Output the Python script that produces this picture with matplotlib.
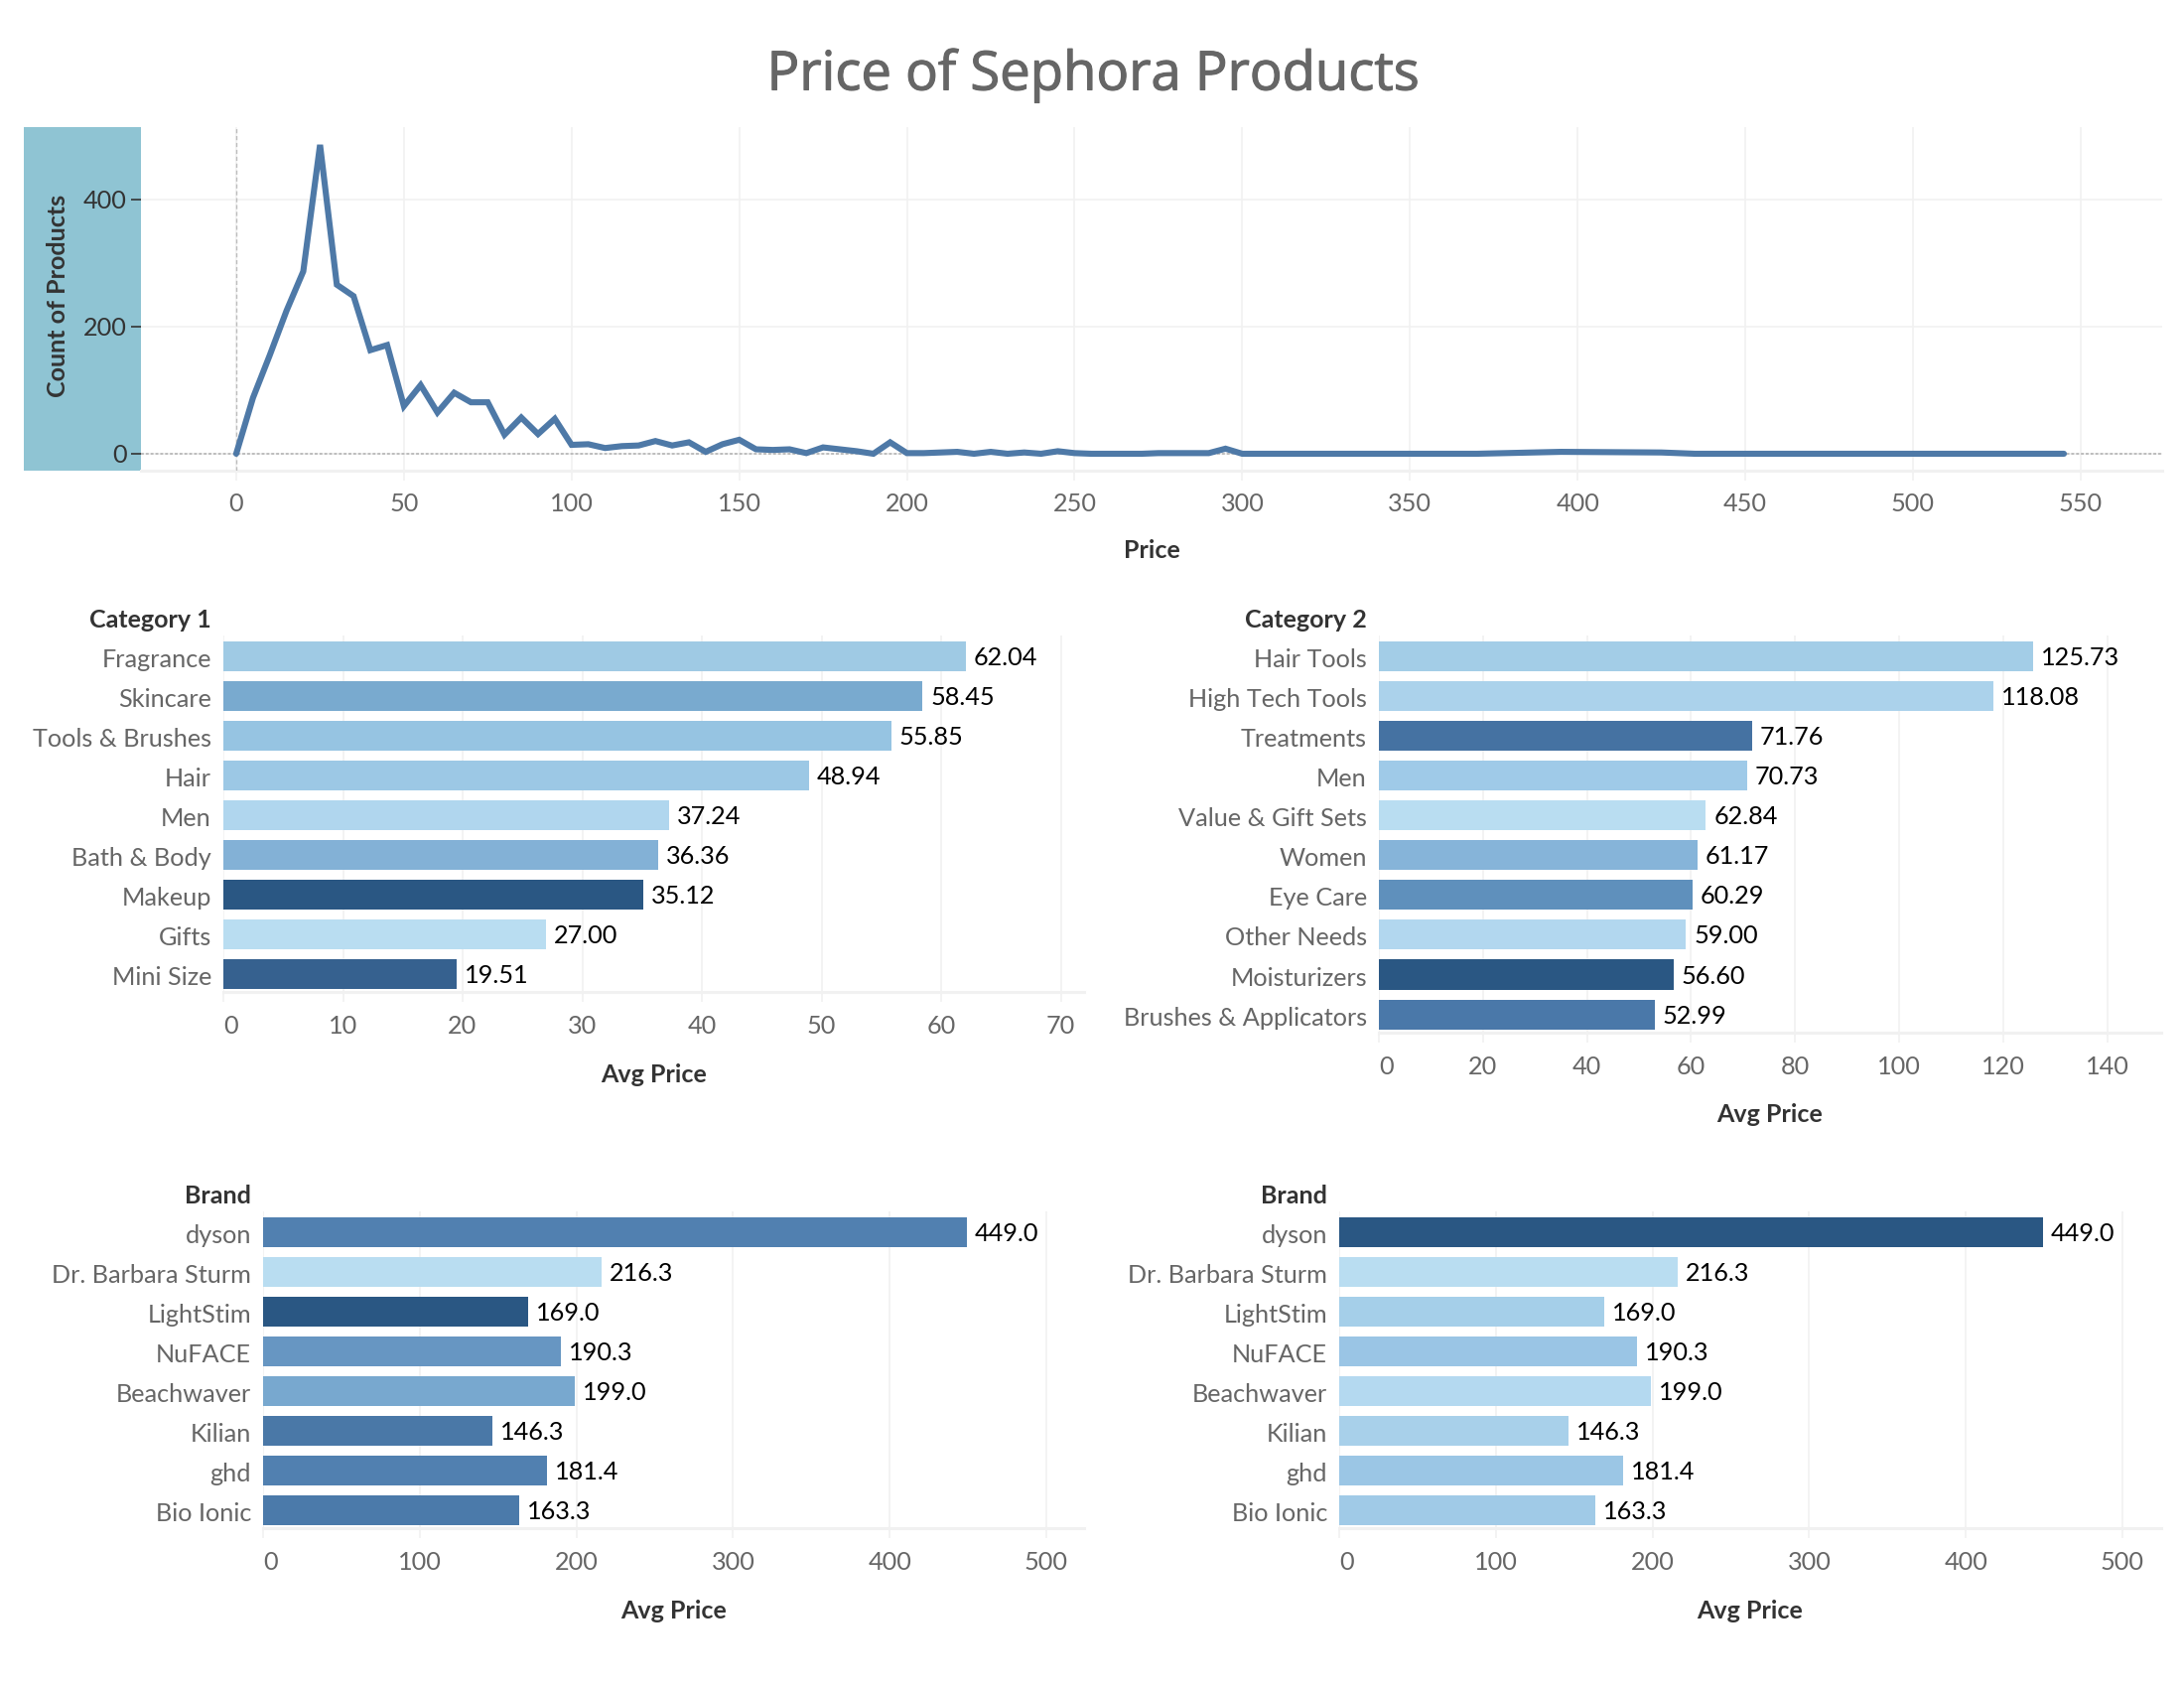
import matplotlib
matplotlib.use('Agg')
import matplotlib.pyplot as plt
import matplotlib.patheffects as pe
from matplotlib.transforms import ScaledTranslation

# price curve
prices = list(range(0, 305, 5)) + [370, 395, 425, 435, 545]
counts = [0, 88, 155, 225, 287, 486, 266, 248, 163, 171, 75, 108, 65, 96, 81, 81, 30, 57, 31, 55,
          14, 15, 9, 12, 13, 20, 13, 18, 3, 15, 22, 7, 6, 7, 1, 10, 7, 4, 0, 18,
          1, 1, 2, 3, 0, 3, 0, 2, 0, 4, 1, 0, 0, 0, 0, 1, 1, 1, 1, 8,
          0, 0, 3, 2, 0, 0]

cat1_names = ['Fragrance', 'Skincare', 'Tools & Brushes', 'Hair', 'Men', 'Bath & Body', 'Makeup', 'Gifts', 'Mini Size']
cat1_vals = [62.04, 58.45, 55.85, 48.94, 37.24, 36.36, 35.12, 27.00, 19.51]
cat1_cols = ['#9FCAE4', '#79AACF', '#96C4E2', '#9CC8E5', '#B0D6EE', '#83B1D6', '#2A5783', '#B9DDF1', '#36618F']

cat2_names = ['Hair Tools', 'High Tech Tools', 'Treatments', 'Men', 'Value & Gift Sets', 'Women', 'Eye Care',
              'Other Needs', 'Moisturizers', 'Brushes & Applicators']
cat2_vals = [125.73, 118.08, 71.76, 70.73, 62.84, 61.17, 60.29, 59.00, 56.60, 52.99]
cat2_cols = ['#A3CDE7', '#ABD2EB', '#4572A2', '#9FCAE8', '#B9DDF1', '#86B4D9', '#5F90BC', '#B2D7EF', '#2A5783', '#4A78A9']

brand_names = ['dyson', 'Dr. Barbara Sturm', 'LightStim', 'NuFACE', 'Beachwaver', 'Kilian', 'ghd', 'Bio Ionic']
brand_vals = [449.0, 216.3, 169.0, 190.3, 199.0, 146.3, 181.4, 163.3]
brand_cols1 = ['#5180B0', '#B9DDF1', '#2A5783', '#6796C2', '#78A8CF', '#4A78A7', '#5180B0', '#4B7AAA']
brand_cols2 = ['#2A5783', '#B9DDF1', '#A5CFE9', '#9AC5E5', '#B4D9F0', '#A8D0EA', '#9BC6E5', '#A0CAE7']

W, H = 2200, 1700
FONT = ['Lato', 'DejaVu Sans']
GRID = '#F1F1F1'
LABEL_SIZE = 9.1
HEAD_SIZE = 9.0
plt.rcParams['font.family'] = FONT

fig = plt.figure(figsize=(11, 8.5), dpi=200)


def px(v):
    return v * 72 / 200


def new_axes(left, top, right, bottom):
    ax = fig.add_axes([left / W, 1 - bottom / H, (right - left) / W, (bottom - top) / H])
    for s in ['top', 'left', 'right']:
        ax.spines[s].set_visible(False)
    ax.spines['bottom'].set_color(GRID)
    ax.spines['bottom'].set_linewidth(1.1)
    ax.set_axisbelow(True)
    return ax


def fig_text(x, y, s, **kw):
    return fig.text(x / W, 1 - y / H, s, **kw)


def nudge(label, dx, dy):
    label.set_transform(label.get_transform() + ScaledTranslation(px(dx) / 72, px(dy) / 72, fig.dpi_scale_trans))


def bar_panel(title, names, vals, cols, box, per_unit, step, xmax_tick, title_y, label_y):
    left, top, right, bottom = box
    ax = new_axes(left, top, right, bottom)
    n = len(names)
    ax.barh(range(n), vals, height=0.75, color=cols, zorder=3)
    ax.set_xlim(0, (right - left) / per_unit)
    ax.set_ylim(n - 1 + 0.46, -0.525)
    ax.set_xticks(list(range(0, xmax_tick + 1, step)))
    ax.grid(axis='x', color=GRID, lw=0.6)
    ax.grid(axis='y', visible=False)
    ax.set_yticks(range(n))
    ax.set_yticklabels(names, fontsize=LABEL_SIZE, color='#666666')
    ax.tick_params(axis='y', length=0, pad=px(12))
    ax.tick_params(axis='x', length=px(10), width=0.6, color=GRID, labelsize=LABEL_SIZE, labelcolor='#666666', pad=px(13))
    for lab in ax.get_yticklabels():
        nudge(lab, 0, -1.5)
    # first label sits inside the pane in the original
    nudge(ax.get_xticklabels()[0], 8, 0)
    for i, v in enumerate(vals):
        txt = f'{v:.1f}' if max(vals) > 200 else f'{v:.2f}'
        ax.annotate(txt, (v, i), xytext=(px(8), px(-1.5)), textcoords='offset points', va='center',
                    fontsize=LABEL_SIZE, color='black')
    fig_text(left - 12, title_y, title, ha='right', va='center', fontsize=HEAD_SIZE, fontweight='bold', color='#333333')
    fig_text((left + right) / 2, label_y, 'Avg Price', ha='center', va='center', fontsize=HEAD_SIZE,
             fontweight='bold', color='#333333')
    return ax


t = fig_text(1100, 76, 'Price of Sephora Products', ha='center', va='center', fontsize=19.6,
             color='#666666', family='Open Sans')
t.set_path_effects([pe.withStroke(linewidth=0.4, foreground='#666666')])

# teal block behind the y axis of the top chart
fig.add_artist(plt.Rectangle((24 / W, 1 - 474 / H), 118 / W, 346 / H, transform=fig.transFigure,
                             color='#8FC4D3', lw=0, zorder=-1))

ax = new_axes(142, 128, 2178, 474)
ax.patch.set_alpha(0)
ax.plot(prices, counts, color='#4E79A7', lw=2.2, solid_joinstyle='miter', solid_capstyle='round', zorder=4)
ax.set_xlim(-28.4, 574.3)
ax.set_ylim(-26.6, 514)
ax.set_xticks(range(0, 551, 50))
ax.set_yticks([0, 200, 400])
ax.grid(color=GRID, lw=0.6)
ax.axhline(0, color='#BDBDBD', lw=0.7, ls=(0, (1.5, 1)), zorder=3)
ax.axvline(0, color='#BDBDBD', lw=0.5, ls=(0, (3, 2)), zorder=3)
ax.tick_params(axis='x', length=px(10), width=0.6, color=GRID, labelsize=LABEL_SIZE, labelcolor='#666666', pad=px(12))
ax.tick_params(axis='y', length=px(10), width=0.6, color='#333333', labelsize=LABEL_SIZE, labelcolor='#333333', pad=px(4))
fig_text(58, 298, 'Count of Products', rotation=90, ha='center', va='center', fontsize=HEAD_SIZE,
         fontweight='bold', color='#333333')
fig_text(1160, 555, 'Price', ha='center', va='center', fontsize=HEAD_SIZE, fontweight='bold', color='#333333')

bar_panel('Category 1', cat1_names, cat1_vals, cat1_cols, (225, 640, 1092, 999), 12.05, 10, 70, 625, 1082)
bar_panel('Category 2', cat2_names, cat2_vals, cat2_cols, (1389, 640, 2177, 1040), 5.24, 20, 140, 625, 1122)
bar_panel('Brand', brand_names, brand_vals, brand_cols1, (265, 1220, 1092, 1539), 1.578, 100, 500, 1205, 1622)
bar_panel('Brand', brand_names, brand_vals, brand_cols2, (1349, 1220, 2177, 1539), 1.578, 100, 500, 1205, 1622)

plt.savefig('out.png', dpi=200)
